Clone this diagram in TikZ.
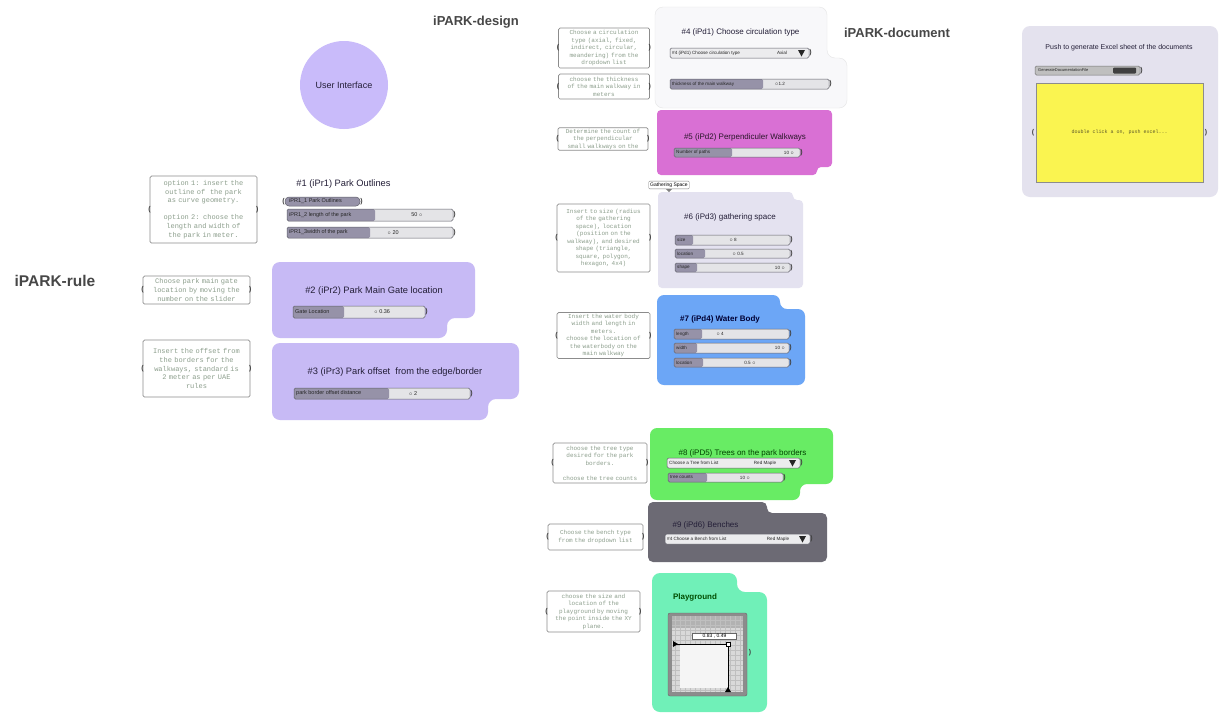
\documentclass[tikz,border=0pt]{standalone}
\usepackage{fontspec}
\setmainfont{Liberation Sans}
\newfontfamily\monof{Liberation Mono}
\usetikzlibrary{calc}
\definecolor{lav}{RGB}{199,186,245}
\definecolor{circ}{RGB}{201,187,250}
\definecolor{mag}{RGB}{217,112,212}
\definecolor{lil}{RGB}{228,226,240}
\definecolor{blu}{RGB}{108,166,246}
\definecolor{grn}{RGB}{104,236,100}
\definecolor{dgr}{RGB}{108,106,116}
\definecolor{mint}{RGB}{112,240,184}
\definecolor{exg}{RGB}{228,226,238}
\definecolor{ylw}{RGB}{250,244,80}
\definecolor{wht}{RGB}{248,248,250}
\definecolor{notec}{RGB}{140,158,140}
\definecolor{titc}{RGB}{35,30,55}
\definecolor{sldD}{RGB}{150,146,168}
\definecolor{sldL}{RGB}{228,228,231}
\definecolor{sldB}{RGB}{95,95,105}
\definecolor{ddF}{RGB}{236,236,238}
\tikzset{
 notebase/.style={draw=black!45, fill=white, rounded corners=1.5pt, line width=0.7pt, text=notec, align=center, inner sep=1pt},
 noteL/.style={notebase, font=\monof\fontsize{7}{8.6}\selectfont},
 noteR/.style={notebase, font=\monof\fontsize{6}{7.5}\selectfont},
 grip/.style={font=\bfseries\fontsize{7}{7}\selectfont, inner sep=0pt, text=black!75},
 head/.style={font=\bfseries\fontsize{13}{14}\selectfont, text=black!72, inner sep=0pt},
 ttl/.style={font=\fontsize{8}{9}\selectfont, text=titc, inner sep=0pt},
 ttlL/.style={font=\fontsize{9.3}{10}\selectfont, text=titc, inner sep=0pt},
 sldlab/.style={font=\fontsize{4.6}{5}\selectfont, text=black!85, inner sep=0pt},
 sldval/.style={font=\fontsize{4.6}{5}\selectfont, text=black!85, inner sep=0pt},
}
% note: style, name, cx, cy, w, h, textwidth, text
\newcommand\Note[8]{%
 \node[#1, minimum width=#5pt, minimum height=#6pt, text width=#7pt] (#2) at (#3,#4) {#8};
 \node[grip] (#2gl) at (#2.west) {(};
 \node[grip] (#2gr) at (#2.east) {)};
}
% slider: name, x1, y1, x2, y2, split, label, value, valx
\newcommand\Sld[9]{%
 \path[fill=sldL, rounded corners=1.5pt] (#2,#3) rectangle (#4,#5);
 \path[fill=sldD, rounded corners=1.5pt] (#2,#3) rectangle (#6,#5);
 \path[draw=sldB, line width=0.5pt, rounded corners=1.5pt] (#2,#3) rectangle (#4,#5);
 \node[sldlab, anchor=west] (#1l) at (#2+2,{(#3+#5)/2}) {#7};
 \node[sldval] (#1v) at (#9,{(#3+#5)/2}) {#8};
 \node[grip] (#1g) at (#4+1.5,{(#3+#5)/2}) {)};
}
% dropdown: name, x1, y1, x2, y2, label, value, valx
\newcommand\Drop[8]{%
 \path[fill=ddF, draw=sldB, rounded corners=1.5pt, line width=0.5pt] (#2,#3) rectangle (#4,#5);
 \node[sldlab, anchor=west] (#1l) at (#2+2,{(#3+#5)/2}) {#6};
 \node[sldlab] (#1v) at (#8,{(#3+#5)/2}) {#7};
 \fill[black!85] (#4-11,#3+2) -- (#4-4,#3+2) -- (#4-7.5,#5-1.5) -- cycle;
 \node[grip] (#1g) at (#4+1.5,{(#3+#5)/2}) {)};
}
% group with bottom-right notch: color, x1,y1,x2,y2,xn,yn, radius
\newcommand\GBR[8]{\path[fill=#1, rounded corners=#8pt] (#2,#3) -- (#4,#3) -- (#4,#7) -- (#6,#7) -- (#6,#5) -- (#2,#5) -- cycle;}
% group with top-right notch: color, x1,y1,x2,y2,xn,yn, radius
\newcommand\GTR[8]{\path[fill=#1, rounded corners=#8pt] (#2,#3) -- (#6,#3) -- (#6,#7) -- (#4,#7) -- (#4,#5) -- (#2,#5) -- cycle;}
\begin{document}
\begin{tikzpicture}[x=1pt,y=-1pt]
\useasboundingbox (0,0) rectangle (1222,713);
\fill[white] (0,0) rectangle (1222,713);

% headings
\node[head] (hdesign) at (476,22) {iPARK-design};
\node[head] (hdoc) at (897,33) {iPARK-document};
\node[head, font=\bfseries\fontsize{15.5}{16}\selectfont] (hrule) at (55,281) {iPARK-rule};

% user interface circle
\node[circle, fill=circ, minimum size=88pt, inner sep=0pt, font=\fontsize{9}{10}\selectfont, text=titc] (ui) at (344,85) {User Interface};

% ---------- groups (backgrounds)
\GBR{lav}{272}{262}{475}{338}{447}{318}{8}
\GBR{lav}{272}{343}{519}{420}{488}{399}{8}
\path[fill=wht, draw=black!10, rounded corners=8pt] (655,7) -- (827,7) -- (827,58) -- (847,58) -- (847,108) -- (655,108) -- cycle;
\GBR{mag}{657}{110}{832}{175}{817}{167}{4}
\GTR{lil}{658}{192}{803}{288}{793}{200}{4}
\GTR{blu}{657}{295}{805}{385}{780}{309}{7}
\GBR{grn}{650}{428}{833}{500}{800}{484}{7}
\GTR{dgr}{648}{502}{827}{562}{767}{513}{5}
\GTR{mint}{652}{573}{767}{712}{737}{592}{8}
\path[fill=exg, rounded corners=8pt] (1022,26) rectangle (1218,197);

% ---------- left notes
\Note{noteL}{n1}{203.5}{209.5}{107}{67}{100}{option 1: insert the\\outline of \ the park\\as curve geometry.\\[8.6pt]option 2: choose the\\length and width of\\the park in meter.}
\Note{noteL}{n2}{196.5}{290}{107}{28}{104}{Choose park main gate\\location by moving the\\number on the slider}
\Note{noteL}{n3}{196.5}{368.5}{107}{57}{104}{Insert the offset from\\the borders for the\\walkways, standard is\\2 meter as per UAE\\rules}

% ---------- #1
\node[ttlL] (t1) at (343.5,184) {\#1 (iPr1) Park Outlines};
\path[fill=sldD, draw=sldB, line width=0.5pt, rounded corners=4pt] (285,197) rectangle (360,206);
\node[sldlab, font=\fontsize{5.5}{6}\selectfont, anchor=west] (p1l) at (289,201.5) {iPR1\_1 Park Outlines};
\node[grip] (p1gl) at (283.5,201.5) {(};
\node[grip] (p1gr) at (361.5,201.5) {)};
\begin{scope}[sldlab/.style={font=\fontsize{5.5}{6}\selectfont, text=black!85, inner sep=0pt}, sldval/.style={font=\fontsize{5.5}{6}\selectfont, text=black!85, inner sep=0pt}]
\Sld{s12}{287}{209}{453}{221}{375}{iPR1\_2 length of the park}{50 $\circ$}{417}
\Sld{s13}{287}{227}{453}{238}{370}{iPR1\_3width of the park}{$\circ$ 20}{393}
% #2
\node[ttlL] (t2) at (374,291) {\#2 (iPr2) Park Main Gate location};
\Sld{s2}{293}{306}{425}{318}{344}{Gate Location}{$\circ$ 0.36}{382}
% #3
\node[ttlL] (t3) at (395,372) {\#3 (iPr3) Park offset \ from the edge/border};
\Sld{s3}{294}{388}{470}{399}{389}{park border offset distance}{$\circ$ 2}{413}
\end{scope}

% ---------- right notes
\Note{noteR}{n4}{604}{48}{91}{40}{86}{Choose a circulation\\type (axial, fixed,\\indirect, circular,\\meandering) from the\\dropdown list}
\Note{noteR}{n5}{604}{86.5}{91}{25}{86}{choose the thickness\\of the main walkway in\\meters}
\Note{noteR}{n6}{603}{139}{90}{22}{86}{Determine the count of\\the perpendicular\\small walkways on the}
\Note{noteR}{n7}{603.5}{238}{93}{68}{88}{Insert to size (radius\\of the gathering\\space), location\\(position on the\\walkway), and desired\\shape (triangle,\\square, polygon,\\hexagon, 4x4)}
\Note{noteR}{n8}{603.5}{335.5}{93}{46}{88}{Insert the water body\\width and length in\\meters.\\choose the location of\\the waterbody on the\\main walkway}
\Note{noteR}{n9}{600}{463}{94}{40}{88}{choose the tree type\\desired for the park\\borders.\\[7.5pt]choose the tree counts}
\Note{noteR}{n10}{595.5}{537}{95}{26}{90}{Choose the bench type\\from the dropdown list}
\Note{noteR}{n11}{593.5}{611.5}{93}{41}{90}{choose the size and\\location of the\\playground by moving\\the point inside the XY\\plane.}

% ---------- #4
\node[ttl] (t4) at (740.5,32) {\#4 (iPd1) Choose circulation type};
\Drop{d4}{670}{48}{809}{58}{\#4 (iPd1) Choose circulation type}{Axial}{782}
\Sld{s4}{670}{79}{829}{89}{763}{thickness of the main walkway}{$\circ$1.2}{780}
% #5
\node[ttl, text=black!80!mag] (t5) at (745,137) {\#5 (iPd2) Perpendiculer Walkways};
\Sld{s5}{674}{148}{800}{157}{732}{Number of paths}{10 $\circ$}{789}
% gathering space tag
\node[draw=black!50, fill=white, rounded corners=1pt, font=\fontsize{5}{6}\selectfont, inner sep=1.5pt] (tag) at (669,185) {Gathering Space};
\fill[black!50] ($(tag.south)+(-3,0)$) -- ($(tag.south)+(3,0)$) -- ($(tag.south)+(0,3)$) -- cycle;
% #6
\node[ttl] (t6) at (730,217) {\#6 (iPd3) gathering space};
\Sld{s61}{675}{235}{790}{245}{693}{size}{$\circ$ 8}{733}
\Sld{s62}{675}{249}{790}{258}{705}{location}{$\circ$ 0.5}{738}
\Sld{s63}{675}{263}{790}{272}{697}{shape}{10 $\circ$}{780}
% #7
\node[ttl, font=\bfseries\fontsize{8}{9}\selectfont, text=black!80!blue] (t7) at (720,319) {\#7 (iPd4) Water Body};
\Sld{s71}{674}{329}{789}{339}{702}{length}{$\circ$ 4}{720}
\Sld{s72}{674}{343}{789}{353}{697}{width}{10 $\circ$}{780}
\Sld{s73}{674}{358}{789}{367}{703}{location}{0.5 $\circ$}{750}
% #8
\node[ttl, text=black!75!green] (t8) at (742.5,453) {\#8 (iPD5) Trees on the park borders};
\Drop{d8}{667}{458}{800}{468}{Choose a Tree from List}{Red Maple}{765}
\Sld{s8}{668}{473}{783}{482}{707}{tree counts}{10 $\circ$}{745}
% #9
\node[ttl] (t9) at (705.5,525) {\#9 (iPd6) Benches};
\Drop{d9}{665}{534}{810}{544}{\#4 Choose a Bench from List}{Red Maple}{778}
% playground
\node[ttl, font=\bfseries\fontsize{8}{9}\selectfont, text=black!70!green] (t10) at (695,597) {Playground};
\path[fill=black!45, draw=black!60, rounded corners=2pt] (668,613) rectangle (747,696);
\fill[black!15] (672,616) rectangle (743,692);
\fill[black!30] (672,616) rectangle (743,628);
\foreach \gx in {675,680,...,740} \draw[black!25, line width=0.2pt] (\gx,616) -- (\gx,692);
\foreach \gy in {620,625,...,690} \draw[black!25, line width=0.2pt] (672,\gy) -- (743,\gy);
\fill[white!96!black] (680,644) rectangle (728,688);
\draw[black, line width=0.6pt] (673,644) -- (728,644) -- (728,690);
\fill[black] (673,641) -- (678,644) -- (673,647) -- cycle;
\fill[black] (725,692) -- (731,692) -- (728,687) -- cycle;
\node[draw=black, fill=white, inner sep=0pt, minimum size=4pt] (knob) at (728,644) {};
\node[draw=black!60, fill=white, font=\fontsize{5}{6}\selectfont, inner sep=1pt, minimum width=44pt] (xyl) at (714.5,636) {0.83 , 0.49};
\node[grip] (xyg) at (750,653) {)};

% ---------- Excel group
\node[font=\fontsize{7}{8}\selectfont, text=titc, inner sep=0pt] (tex) at (1119,48) {Push to generate Excel sheet of the documents};
\path[fill=black!25, draw=black!55, line width=0.5pt, rounded corners=1.5pt] (1035,66) rectangle (1140,75);
\path[fill=black!75, rounded corners=1pt] (1113,67.5) rectangle (1136,73.5);
\node[sldlab, font=\fontsize{4}{5}\selectfont, anchor=west] (btn) at (1038,70.5) {GenerateDocumentationFile};
\node[grip] (btng) at (1141.5,70.5) {)};
\node[draw=black!45, fill=ylw, minimum width=167pt, minimum height=99pt, inner sep=0pt, font=\monof\fontsize{5}{6}\selectfont, text=black!45!olive] (panel) at (1119.5,132.5) {double click a on, push excel...};
\node[grip] (pgl) at (1033,132.5) {(};
\node[grip] (pgr) at (1206,132.5) {)};
\end{tikzpicture}
\end{document}
